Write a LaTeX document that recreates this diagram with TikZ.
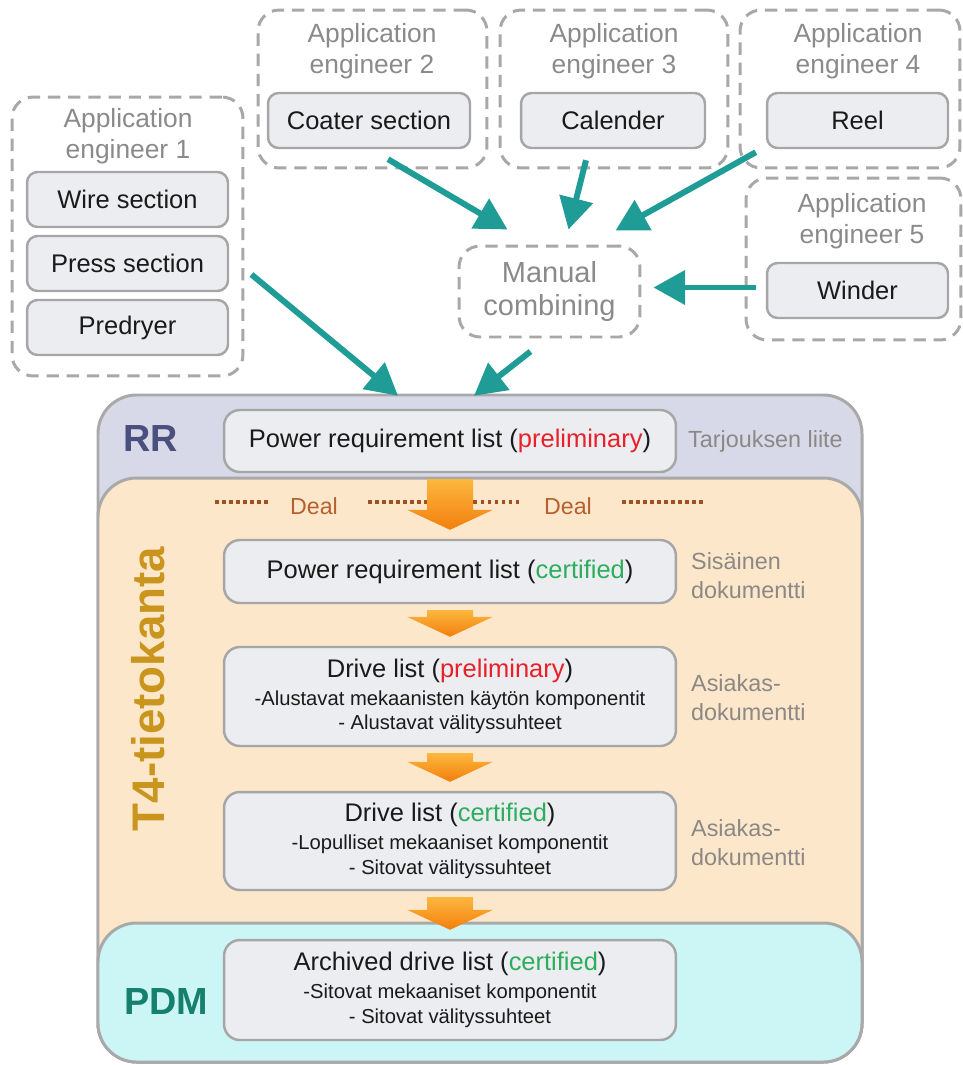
\documentclass[tikz,border=0pt]{standalone}
\usepackage{fontspec}
\setmainfont{Liberation Sans}
\usetikzlibrary{arrows.meta,calc}
\definecolor{dashgray}{HTML}{A8A8A8}
\definecolor{titlegray}{HTML}{8A8A8A}
\definecolor{sidegray}{HTML}{8C8885}
\definecolor{boxgray}{HTML}{A6A6A6}
\definecolor{boxfill}{HTML}{ECEDF0}
\definecolor{textblack}{HTML}{1A1A1A}
\definecolor{bandgray}{HTML}{A9A9A9}
\definecolor{rrfill}{HTML}{D7D8E8}
\definecolor{t4fill}{HTML}{FDE7CB}
\definecolor{pdmfill}{HTML}{CCF6F6}
\definecolor{rrblue}{HTML}{4B4F7E}
\definecolor{t4gold}{HTML}{C9951C}
\definecolor{pdmgreen}{HTML}{16806F}
\definecolor{tealarr}{HTML}{1F9C95}
\definecolor{prelim}{HTML}{E8202A}
\definecolor{certif}{HTML}{2DAE5C}
\definecolor{dealcol}{HTML}{B5602E}
\definecolor{dealbrown}{HTML}{A34F24}
\definecolor{arrtop}{HTML}{FDB73E}
\definecolor{arrbot}{HTML}{F27F0C}
\newcommand{\subline}{\fontsize{11.5}{13.8}\selectfont}
\newcommand{\bigarrow}[2]{%
  \shade[top color=arrtop, bottom color=arrbot]
    ($(#1.south)+(-23,6)$) -- ($(#1.south)+(23,6)$) -- ($(#2.north)+(23,-29)$)
    -- ($(#2.north)+(43,-29)$) -- ($(#2.north)+(0,-9)$) -- ($(#2.north)+(-43,-29)$)
    -- ($(#2.north)+(-23,-29)$) -- cycle;}

\begin{document}
\begin{tikzpicture}[x=0.02cm, y=-0.02cm,
  engbox/.style={draw=dashgray, line width=1.7pt, dash pattern=on 7pt off 4.5pt, rounded corners=12pt, inner sep=0pt},
  engtitle/.style={text=titlegray, align=center, font=\fontsize{15}{18}\selectfont},
  partbox/.style={draw=boxgray, line width=1.4pt, fill=boxfill, rounded corners=6pt, minimum height=1.1cm, inner sep=0pt, text=textblack, font=\fontsize{14.5}{17}\selectfont},
  listbox/.style={draw=boxgray, line width=1.4pt, fill=boxfill, rounded corners=9pt, minimum width=9.04cm, inner sep=0pt, align=center, text=textblack, font=\fontsize{14.5}{17}\selectfont},
  sidenote/.style={text=sidegray, anchor=west, align=left, font=\fontsize{13.3}{16.5}\selectfont},
  band/.style={draw=bandgray, line width=1.7pt, rounded corners=22pt},
  flow/.style={draw=tealarr, line width=3.4pt, -{Triangle[length=18pt,width=19pt]}},
  dealline/.style={draw=dealbrown, line width=2pt, dash pattern=on 2pt off 2pt},
  dealtext/.style={text=dealcol, font=\fontsize{13.2}{16}\selectfont},
  biglabel/.style={font=\bfseries\fontsize{21.5}{24}\selectfont}]
\useasboundingbox (0,0) rectangle (963,1065);

% engineers
\node[engbox, minimum width=4.62cm, minimum height=5.58cm] (eng1) at (127.5,236.5) {};
\node[engbox, minimum width=4.58cm, minimum height=3.16cm] (eng2) at (372.5,89) {};
\node[engbox, minimum width=4.56cm, minimum height=3.16cm] (eng3) at (614,89) {};
\node[engbox, minimum width=4.40cm, minimum height=3.16cm] (eng4) at (850,89) {};
\node[engbox, minimum width=4.30cm, minimum height=3.24cm] (eng5) at (853.5,259) {};
\node[engbox, minimum width=3.62cm, minimum height=1.82cm, text=titlegray, align=center,
      font=\fontsize{16.5}{19}\selectfont] (manual) at (549.5,291.5) {Manual\\combining};

\node[engtitle] (t1) at (128,136) {Application\\engineer 1};
\node[engtitle] (t2) at (372,51) {Application\\engineer 2};
\node[engtitle] (t3) at (614,51) {Application\\engineer 3};
\node[engtitle] (t4) at (858,51) {Application\\engineer 4};
\node[engtitle] (t5) at (862,221) {Application\\engineer 5};

\node[partbox, minimum width=4.02cm] (wire) at (127.5,199.5) {Wire section};
\node[partbox, minimum width=4.02cm] (press) at (127.5,263.5) {Press section};
\node[partbox, minimum width=4.02cm] (predryer) at (127.5,327.5) {Predryer};
\node[partbox, minimum width=4.04cm] (coater) at (369,120.5) {Coater section};
\node[partbox, minimum width=3.68cm] (calender) at (613,120.5) {Calender};
\node[partbox, minimum width=3.62cm] (reel) at (857.5,120.5) {Reel};
\node[partbox, minimum width=3.62cm] (winder) at (857.5,290.5) {Winder};

% databases
\draw[band, fill=rrfill] (98,395) rectangle (862,1062);
\draw[band, fill=t4fill] (98,478) rectangle (862,1062);
\draw[band, fill=pdmfill] (98,923) rectangle (862,1062);

\node[biglabel, text=rrblue] (rr) at (151,438) {RR};
\node[biglabel, text=t4gold, rotate=90, font=\bfseries\fontsize{26}{28}\selectfont] (t4db) at (148,689) {T4-tietokanta};
\node[biglabel, text=pdmgreen] (pdm) at (166,1001) {PDM};

\node[listbox, minimum height=1.24cm] (prlpre) at (450,441) {Power requirement list (\textcolor{prelim}{preliminary})};
\node[listbox, minimum height=1.26cm] (prlcert) at (450,571.5) {Power requirement list (\textcolor{certif}{certified})};
\node[listbox, minimum height=1.98cm] (dlpre) at (450,696.5) {Drive list (\textcolor{prelim}{preliminary})\\[-1pt]
  \subline -Alustavat mekaanisten käytön komponentit\\[-3pt]\subline - Alustavat välityssuhteet};
\node[listbox, minimum height=1.96cm] (dlcert) at (450,841) {Drive list (\textcolor{certif}{certified})\\[-1pt]
  \subline -Lopulliset mekaaniset komponentit\\[-3pt]\subline - Sitovat välityssuhteet};
\node[listbox, minimum height=2.0cm] (archived) at (450,990) {Archived drive list (\textcolor{certif}{certified})\\[-1pt]
  \subline -Sitovat mekaaniset komponentit\\[-3pt]\subline - Sitovat välityssuhteet};

\node[sidenote] (offer) at (682,441) {Tarjouksen liite};
\node[sidenote] (internal) at (685,575.5) {Sisäinen\\dokumentti};
\node[sidenote] (cust1) at (685,698) {Asiakas-\\dokumentti};
\node[sidenote] (cust2) at (685,843) {Asiakas-\\dokumentti};

% deal
\node[dealtext] (deal1) at (314,506) {Deal};
\node[dealtext] (deal2) at (568,506) {Deal};
\coordinate (dealL) at (215,502);
\coordinate (dealR) at (703,502);
\draw[dealline] (dealL) -- ($(deal1.west)+(-14,-4)$);
\draw[dealline] ($(deal1.east)+(24,-4)$) -- ($(deal2.west)+(-16,-4)$);
\draw[dealline] ($(deal2.east)+(24,-4)$) -- (dealR);

\bigarrow{prlpre}{prlcert}
\bigarrow{prlcert}{dlpre}
\bigarrow{dlpre}{dlcert}
\bigarrow{dlcert}{archived}

% flows
\draw[flow] ($(coater.south)+(19,10)$) -- ($(manual.north)+(-42,-15)$);
\draw[flow] ($(calender.south)+(-27,11)$) -- ($(manual.north)+(19,-15)$);
\draw[flow] ($(reel.south west)+(-10,3)$) -- ($(manual.north)+(66,-14)$);
\draw[flow] ($(winder.west)+(-10,-3)$) -- ($(manual.east)+(12,-4)$);
\draw[flow] ($(eng1.east)+(7,38)$) -- ($(prlpre.north)+(-52,-13)$);
\draw[flow] ($(manual.south)+(-19,13)$) -- ($(prlpre.north)+(24,-13)$);

\end{tikzpicture}
\end{document}
